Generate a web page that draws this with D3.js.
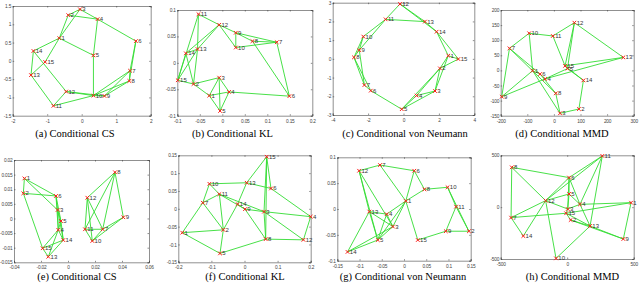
<!DOCTYPE html>
<html lang="en">
<head>
  <meta charset="UTF-8">
  <title>Conditional graphs</title>
  <script src="https://d3js.org/d3.v7.min.js"></script>
  <style>
    body { margin: 0; background: #fff; }
    svg { display: block; }
    .axis path, .axis line { stroke: #444; stroke-width: 0.6; }
    .axis text { font-family: "Liberation Sans", sans-serif; font-size: 4.8px; letter-spacing: -0.2px; fill: #444; }
    .edge { stroke: #33dd33; stroke-width: 0.9; }
    .mark { stroke: #ff1a1a; stroke-width: 1; }
    .label { font-family: "Liberation Sans", sans-serif; font-size: 6px; fill: #333; }
    .caption { font-family: "Liberation Serif", serif; font-size: 10.5px; fill: #000; }
  </style>
</head>
<body>
  <svg width="640" height="287"></svg>

  <script>
    // node labels are 1..15 in every panel; X/Y arrays are in label order
    const nodeLabels = d3.range(1, 16);

    // (a) Conditional CS, top
    const aX = [-0.65, -0.39, -0.05, 0.46, 0.34, 1.57, 1.40, 1.38, 0.66, 0.34, -0.82, -0.45, -1.47, -1.40, -1.06];
    const aY = [0.62, 1.25, 1.41, 1.14, 0.15, 0.54, -0.27, -0.55, -0.96, -0.95, -1.23, -0.84, -0.39, 0.27, -0.03];
    const aEdges = [[3,2],[3,4],[2,4],[3,1],[2,1],[1,14],[1,15],[1,5],[15,13],[14,13],[14,12],[13,11],[11,12],[11,10],
      [12,10],[12,9],[5,10],[4,5],[4,6],[6,7],[6,8],[7,8],[7,10],[7,9],[8,9],[8,10],[10,9]];
    const aXTicks = [-2, -1, 0, 1, 2];
    const aYTicks = [-1.5, -1, -0.5, 0, 0.5, 1, 1.5];

    // (b) Conditional KL, top
    const bX = [-0.029, -0.064, -0.007, 0.015, -0.005, 0.149, 0.121, 0.067, 0.030, 0.030, -0.053, -0.007, -0.055, -0.081, -0.099];
    const bY = [-0.062, -0.040, -0.028, -0.055, -0.091, -0.063, 0.039, 0.041, 0.057, 0.029, 0.092, 0.072, 0.026, 0.018, -0.033];
    const bEdges = [[11,12],[11,13],[11,15],[12,14],[12,13],[12,9],[12,10],[9,10],[9,8],[9,7],[8,7],[10,7],[8,6],[7,6],
      [14,13],[14,15],[14,2],[13,2],[13,15],[15,2],[2,1],[2,3],[3,1],[3,4],[3,5],[1,4],[1,5],[4,5],[4,6]];
    const bXTicks = [-0.1, -0.05, 0, 0.05, 0.1, 0.15, 0.2];
    const bYTicks = [-0.1, -0.05, 0, 0.05, 0.1];

    // (c) Conditional von Neumann, top
    const cX = [2.53, 2.06, 1.78, 0.74, -0.10, -1.85, -2.21, -2.80, -2.50, -2.27, -1.01, -0.20, 1.21, 1.87, 3.10];
    const cY = [0.17, -0.51, -1.72, -1.96, -2.69, -1.70, -1.40, 0.08, 0.47, 1.19, 2.11, 2.93, 1.99, 1.45, -0.01];
    const cEdges = [[12,11],[12,13],[12,14],[11,13],[11,10],[11,9],[10,9],[10,8],[9,8],[9,7],[8,7],[8,6],[7,6],[6,5],
      [5,4],[5,3],[4,3],[4,2],[5,2],[3,2],[3,1],[2,1],[2,15],[1,15],[1,14],[15,14],[14,13]];
    const cXTicks = [-4, -2, 0, 2, 4];
    const cYTicks = [-3, -2, -1, 0, 1, 2, 3];

    // (d) Conditional MMD, top
    const dX = [-80, 94, 23, -33, 51, -52, -167, 7, -196, -93, -4, 77, 261, 111, 42];
    const dY = [-1, -128, -142, -28, 6, -12, 73, -76, -87, 123, 114, 158, 43, -33, 15];
    const dEdges = [[10,11],[10,7],[10,1],[11,12],[11,15],[12,15],[12,5],[12,13],[13,15],[13,4],[7,9],[7,6],[7,8],
      [9,1],[9,4],[1,6],[6,4],[1,3],[4,5],[5,14],[15,14],[14,2],[8,3],[3,2],[15,5],[6,8]];
    const dXTicks = [-200, -100, 0, 100, 200, 300];
    const dYTicks = [-150, -100, -50, 0, 50, 100, 150, 200];

    // (e) Conditional CS, bottom
    const eX = [-0.0323, -0.0331, -0.0077, -0.0072, -0.0052, -0.0089, 0.0257, 0.0348, 0.0410, 0.0180, 0.0126, 0.0143, -0.0146, -0.0035, -0.0188];
    const eY = [0.0137, 0.0086, 0.0029, -0.0039, -0.0009, 0.0077, -0.0037, 0.0158, 0.0004, -0.0077, -0.0037, 0.0071, -0.0131, -0.0074, -0.0102];
    const eEdges = [[1,2],[1,6],[1,3],[2,6],[2,15],[6,3],[6,4],[6,5],[3,5],[3,4],[5,4],[3,14],[4,14],[4,15],[4,13],
      [15,14],[15,13],[13,14],[5,14],[8,12],[8,11],[8,7],[8,9],[12,11],[12,7],[12,10],[11,7],[11,10],[7,9],[10,9],[7,10]];
    const eXTicks = [-0.04, -0.02, 0, 0.02, 0.04, 0.06];
    const eYTicks = [-0.015, -0.01, -0.005, 0, 0.005, 0.01, 0.015, 0.02];

    // (f) Conditional KL, bottom
    const fX = [-0.188, -0.064, 0.059, 0.200, -0.074, 0.080, -0.126, 0.064, 0.0015, -0.106, -0.076, 0.178, 0.0066, -0.021, 0.067];
    const fY = [-0.067, -0.059, -0.008, -0.022, -0.125, 0.057, 0.017, -0.085, -0.001, 0.070, 0.041, -0.087, 0.073, 0.013, 0.146];
    const fEdges = [[15,13],[15,6],[15,3],[15,8],[10,13],[10,11],[10,7],[13,6],[13,14],[6,4],[11,7],[11,9],[11,2],[11,3],
      [7,1],[7,2],[14,9],[14,2],[9,3],[9,8],[3,4],[3,8],[3,12],[4,12],[8,12],[1,2],[1,5],[2,5],[5,8]];
    const fXTicks = [-0.2, -0.1, 0, 0.1, 0.2];
    const fYTicks = [-0.15, -0.1, -0.05, 0, 0.05, 0.1, 0.15];

    // (g) Conditional von Neumann, bottom
    const gX = [0.004, 0.146, -0.025, -0.039, -0.059, 0.023, -0.054, 0.046, 0.094, 0.098, 0.117, -0.101, -0.078, -0.127, 0.031];
    const gY = [0.0155, -0.043, -0.034, -0.010, -0.060, 0.074, 0.085, 0.038, -0.043, 0.042, 0.0045, 0.074, -0.005, -0.083, -0.060];
    const gEdges = [[12,7],[12,13],[12,5],[12,3],[7,6],[7,1],[6,8],[6,1],[8,10],[8,1],[10,11],[10,2],[11,2],[11,9],[9,2],
      [9,15],[1,15],[1,3],[1,4],[13,4],[13,5],[13,3],[13,14],[4,3],[4,5],[3,5],[3,14],[5,14],[1,5]];
    const gXTicks = [-0.15, -0.1, -0.05, 0, 0.05, 0.1, 0.15];
    const gYTicks = [-0.1, -0.05, 0, 0.05, 0.1];

    // (h) Conditional MMD, bottom
    const hX = [480, 26, 4, 96, 14, 14, -422, -417, 422, -84, 264, -162, 172, -330, -8];
    const hY = [43, -124, -18, 27, 127, 285, -101, 384, -307, -494, 494, 63, -182, -278, -59];
    const hEdges = [[11,6],[11,12],[11,4],[11,13],[8,6],[8,7],[8,12],[6,12],[6,5],[6,4],[6,3],[12,5],[12,7],[12,14],
      [12,10],[12,3],[5,4],[5,3],[4,1],[4,3],[1,15],[1,9],[7,15],[7,14],[3,15],[15,2],[2,13],[15,13],[13,9],[2,9],[13,10],[4,13]];
    const hXTicks = [-500, 0, 500];
    const hYTicks = [-500, 0, 500];

    const panels = [
      { cap: '(a) Conditional CS', xs: aX, ys: aY, edges: aEdges, xt: aXTicks, yt: aYTicks, box: [12.7, 150.7, 6, 115.7], cx: 75, cy: 137 },
      { cap: '(b) Conditional KL', xs: bX, ys: bY, edges: bEdges, xt: bXTicks, yt: bYTicks, box: [177.3, 312.3, 10, 115.7], cx: 232.5, cy: 137 },
      { cap: '(c) Conditional von Neumann', xs: cX, ys: cY, edges: cEdges, xt: cXTicks, yt: cYTicks, box: [332.7, 474.3, 2.7, 115], cx: 405, cy: 137 },
      { cap: '(d) Conditional MMD', xs: dX, ys: dY, edges: dEdges, xt: dXTicks, yt: dYTicks, box: [500.7, 633.7, 10, 115.7], cx: 562, cy: 137 },
      { cap: '(e) Conditional CS', xs: eX, ys: eY, edges: eEdges, xt: eXTicks, yt: eYTicks, box: [14, 149, 160, 262.3], cx: 77, cy: 280 },
      { cap: '(f) Conditional KL', xs: fX, ys: fY, edges: fEdges, xt: fXTicks, yt: fYTicks, box: [178.3, 310.7, 155.3, 262.3], cx: 245, cy: 280 },
      { cap: '(g) Conditional von Neumann', xs: gX, ys: gY, edges: gEdges, xt: gXTicks, yt: gYTicks, box: [337.3, 470.7, 157.3, 260.7], cx: 403, cy: 280 },
      { cap: '(h) Conditional MMD', xs: hX, ys: hY, edges: hEdges, xt: hXTicks, yt: hYTicks, box: [500.7, 633.7, 155.3, 259], cx: 572.5, cy: 280 }
    ];

    const svg = d3.select('svg');
    const tick = 1.5;

    panels.forEach(p => {
      const [l, r, t, b] = p.box;
      const x = d3.scaleLinear().domain(d3.extent(p.xt)).range([l, r]);
      const y = d3.scaleLinear().domain(d3.extent(p.yt)).range([b, t]);
      const g = svg.append('g');

      // axes box with inward ticks
      g.append('g').attr('class', 'axis').attr('transform', `translate(0,${b})`)
        .call(d3.axisBottom(x).tickValues(p.xt).tickSize(-tick).tickPadding(3.5).tickFormat(d => String(d)));
      g.append('g').attr('class', 'axis').attr('transform', `translate(0,${t})`)
        .call(d3.axisTop(x).tickValues(p.xt).tickSize(-tick).tickFormat(''));
      g.append('g').attr('class', 'axis').attr('transform', `translate(${l},0)`)
        .call(d3.axisLeft(y).tickValues(p.yt).tickSize(-tick).tickPadding(1.5).tickFormat(d => String(d)));
      g.append('g').attr('class', 'axis').attr('transform', `translate(${r},0)`)
        .call(d3.axisRight(y).tickValues(p.yt).tickSize(-tick).tickFormat(''));

      const pos = k => [x(p.xs[k - 1]), y(p.ys[k - 1])];

      g.selectAll('.edge').data(p.edges).enter().append('line')
        .attr('class', 'edge')
        .attr('x1', e => pos(e[0])[0]).attr('y1', e => pos(e[0])[1])
        .attr('x2', e => pos(e[1])[0]).attr('y2', e => pos(e[1])[1]);

      const nodes = g.selectAll('.node').data(nodeLabels).enter().append('g')
        .attr('class', 'node')
        .attr('transform', k => `translate(${pos(k)[0]},${pos(k)[1]})`);
      const s = 1.8;
      nodes.append('line').attr('class', 'mark').attr('x1', -s).attr('y1', -s).attr('x2', s).attr('y2', s);
      nodes.append('line').attr('class', 'mark').attr('x1', -s).attr('y1', s).attr('x2', s).attr('y2', -s);
      nodes.append('text').attr('class', 'label').attr('x', 2.3).attr('y', 2).text(k => k);

      svg.append('text').attr('class', 'caption')
        .attr('x', p.cx).attr('y', p.cy).attr('text-anchor', 'middle')
        .text(p.cap);
    });
  </script>
</body>
</html>
